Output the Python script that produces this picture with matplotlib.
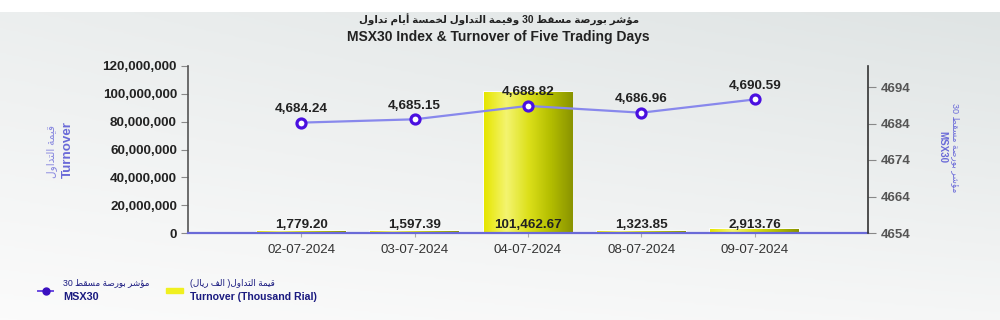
import re
import numpy as np
import matplotlib
matplotlib.use("Agg")
import matplotlib.pyplot as plt
from matplotlib.colors import LinearSegmentedColormap

# data
dates = ["02-07-2024", "03-07-2024", "04-07-2024", "08-07-2024", "09-07-2024"]
turnover = [1779.20, 1597.39, 101462.67, 1323.85, 2913.76]   # thousand rial
msx30 = [4684.24, 4685.15, 4688.82, 4686.96, 4690.59]
left_ticks = [0, 20e6, 40e6, 60e6, 80e6, 100e6, 120e6]
right_ticks = [4654, 4664, 4674, 4684, 4694]

title_ar = "مؤشر بورصة مسقط 30 وقيمة التداول لخمسة أيام تداول"
title_en = "MSX30 Index & Turnover of Five Trading Days"
ylab_left_ar = "قيمة التداول"
ylab_right_ar = "مؤشر بورصة مسقط 30"
leg_turn_ar = "قيمة التداول( الف ريال)"

# minimal arabic shaping (presentation forms) + rtl ordering
FORMS = {
    '\u0627': ('\uFE8D', '\uFE8E', None, None),
    '\u0623': ('\uFE83', '\uFE84', None, None),
    '\u0624': ('\uFE85', '\uFE86', None, None),
    '\u0628': ('\uFE8F', '\uFE90', '\uFE91', '\uFE92'),
    '\u0629': ('\uFE93', '\uFE94', None, None),
    '\u062A': ('\uFE95', '\uFE96', '\uFE97', '\uFE98'),
    '\u062E': ('\uFEA5', '\uFEA6', '\uFEA7', '\uFEA8'),
    '\u062F': ('\uFEA9', '\uFEAA', None, None),
    '\u0631': ('\uFEAD', '\uFEAE', None, None),
    '\u0633': ('\uFEB1', '\uFEB2', '\uFEB3', '\uFEB4'),
    '\u0634': ('\uFEB5', '\uFEB6', '\uFEB7', '\uFEB8'),
    '\u0635': ('\uFEB9', '\uFEBA', '\uFEBB', '\uFEBC'),
    '\u0637': ('\uFEC1', '\uFEC2', '\uFEC3', '\uFEC4'),
    '\u0641': ('\uFED1', '\uFED2', '\uFED3', '\uFED4'),
    '\u0642': ('\uFED5', '\uFED6', '\uFED7', '\uFED8'),
    '\u0644': ('\uFEDD', '\uFEDE', '\uFEDF', '\uFEE0'),
    '\u0645': ('\uFEE1', '\uFEE2', '\uFEE3', '\uFEE4'),
    '\u0648': ('\uFEED', '\uFEEE', None, None),
    '\u064A': ('\uFEF1', '\uFEF2', '\uFEF3', '\uFEF4'),
}
LAM_ALEF = {'\u0627': ('\uFEFB', '\uFEFC'), '\u0623': ('\uFEF7', '\uFEF8')}


def ar(s):
    out = []
    i = 0
    while i < len(s):
        c = s[i]
        if c not in FORMS:
            out.append(c)
            i += 1
            continue
        prev = s[i - 1] if i > 0 else ''
        pj = prev in FORMS and FORMS[prev][2] is not None
        if c == '\u0644' and i + 1 < len(s) and s[i + 1] in LAM_ALEF:
            out.append(LAM_ALEF[s[i + 1]][1 if pj else 0])
            i += 2
            continue
        nxt = s[i + 1] if i + 1 < len(s) else ''
        nj = nxt in FORMS and FORMS[c][2] is not None
        iso, fin, ini, med = FORMS[c]
        if pj and nj:
            f = med
        elif pj:
            f = fin
        elif nj:
            f = ini
        else:
            f = iso
        out.append(f)
        i += 1
    vis = ''.join(out)[::-1]
    vis = re.sub(r'[0-9]+', lambda m: m.group()[::-1], vis)
    vis = vis.translate(str.maketrans('()', ')('))
    return vis


FONT = ['Liberation Sans', 'DejaVu Sans']
plt.rcParams['font.family'] = FONT

fig = plt.figure(figsize=(10, 3.2), dpi=100)
fig.patch.set_facecolor('white')

# background gradient panel
bg = fig.add_axes([0, 0, 1, 1 - 12 / 320], zorder=-10)
gy, gx = np.mgrid[0:1:200j, 0:1:200j]
grad = 0.55 * gy + 0.25 * gx * gy + 0.2 * gx
bg_cmap = LinearSegmentedColormap.from_list('bg', ['#fbfbfb', '#dfe4e4'])
bg.imshow(grad, cmap=bg_cmap, aspect='auto', origin='lower', extent=[0, 1, 0, 1])
bg.axis('off')

ax = fig.add_axes([0.188, 1 - 233 / 320, 0.68, (233 - 66) / 320])
ax.set_facecolor('none')
x = np.arange(len(dates))

# turnover bars (values in thousand rial -> rial scale on axis)
bar_vals = [v * 1000 for v in turnover]
bars = ax.bar(x, bar_vals, width=0.78, color='#e8e820', edgecolor='white',
              linewidth=1.2, zorder=2)
bar_cmap = LinearSegmentedColormap.from_list(
    'bar', ['#e6e600', '#f4f470', '#dce01a', '#b4be00', '#8a9400'])
for b in bars:
    im = ax.imshow(np.linspace(0, 1, 100).reshape(1, -1), cmap=bar_cmap,
                   aspect='auto', zorder=2.5,
                   extent=[b.get_x(), b.get_x() + b.get_width(), 0, b.get_height()])
    im.set_clip_path(b)

ax.set_xlim(-1, len(dates))
ax.set_ylim(0, 120e6)
ax.set_yticks(left_ticks)
ax.set_yticklabels([f"{int(t):,}" for t in left_ticks], fontsize=9.7,
                   fontweight='bold', color='#222222')
ax.set_xticks(x)
ax.set_xticklabels(dates, fontsize=9.6, color='#333333')
ax.tick_params(axis='y', length=5, width=0.8, color='#888888', pad=3)
ax.tick_params(axis='x', length=3, width=0.8, color='#aaaaaa', pad=5)

for s in ['top', 'right']:
    ax.spines[s].set_visible(False)
ax.spines['left'].set_color('#555555')
ax.spines['left'].set_linewidth(1.2)
ax.spines['bottom'].set_color('#6a6ad8')
ax.spines['bottom'].set_linewidth(1.6)

for i, v in enumerate(turnover):
    ax.annotate(f"{v:,.2f}", (i, 0), xytext=(0, 1.5), textcoords='offset points',
                ha='center', va='bottom', fontsize=9.7, fontweight='bold',
                color='#222222', zorder=5)

# msx30 line
ax2 = ax.twinx()
ax2.set_facecolor('none')
ax2.plot(x, msx30, color='#8888ec', linewidth=1.6, marker='o', markersize=6.5,
         markerfacecolor='white', markeredgecolor='#4a10e0', markeredgewidth=2.3,
         zorder=4)
ax2.set_ylim(4654, 4654 + 167 / 3.65)
ax2.set_yticks(right_ticks)
ax2.set_yticklabels([str(t) for t in right_ticks], fontsize=9.5,
                    fontweight='bold', color='#555555')
ax2.tick_params(axis='y', length=6, width=0.8, color='#888888', pad=3)
for s in ['top', 'left', 'bottom']:
    ax2.spines[s].set_visible(False)
ax2.spines['right'].set_color('#333333')
ax2.spines['right'].set_linewidth(1.2)

for i, v in enumerate(msx30):
    ax2.annotate(f"{v:,.2f}", (i, v), xytext=(0, 5.5), textcoords='offset points',
                 ha='center', va='bottom', fontsize=9.7, fontweight='bold',
                 color='#222222')

# axis labels
fig.text(52 / 1000, 1 - 151 / 320, ar(ylab_left_ar), rotation=90, ha='center',
         va='center', fontsize=7.6, color='#8a8ae0', family=FONT)
fig.text(68 / 1000, 1 - 149 / 320, "Turnover", rotation=90, ha='center',
         va='center', fontsize=9.6, fontweight='bold', color='#6a6ad8')
fig.text(955 / 1000, 1 - 148 / 320, ar(ylab_right_ar), rotation=270, ha='center',
         va='center', fontsize=6.5, color='#6a6ad8', family=FONT)
fig.text(942 / 1000, 1 - 147 / 320, "MSX30", rotation=270, ha='center',
         va='center', fontsize=7, fontweight='bold', color='#6a6ad8')

# titles
fig.text(0.499, 1 - 20 / 320, ar(title_ar), ha='center', va='center',
         fontsize=7.4, fontweight='bold', color='#222222', family=FONT)
fig.text(0.498, 1 - 37 / 320, title_en, ha='center', va='center',
         fontsize=10, fontweight='bold', color='#222222')

# legend
fig.add_artist(plt.Line2D([38 / 1000, 53 / 1000], [1 - 291 / 320] * 2,
                          color='#6a4ae0', linewidth=1.4))
fig.add_artist(plt.Line2D([45.5 / 1000], [1 - 291 / 320], marker='o', markersize=5,
                          color='#3a10c0'))
fig.text(63 / 1000, 1 - 283 / 320, ar(ylab_right_ar), ha='left', va='center',
         fontsize=6.3, color='#1a1a80', family=FONT)
fig.text(63 / 1000, 1 - 297 / 320, "MSX30", ha='left', va='center',
         fontsize=7.8, fontweight='bold', color='#1a1a80')
fig.add_artist(plt.Rectangle((166 / 1000, 1 - 293 / 320), 17 / 1000, 5 / 320,
                             color='#f0f020', transform=fig.transFigure))
fig.text(190 / 1000, 1 - 283 / 320, ar(leg_turn_ar), ha='left', va='center',
         fontsize=6.3, color='#1a1a80', family=FONT)
fig.text(190 / 1000, 1 - 297 / 320, "Turnover (Thousand Rial)", ha='left',
         va='center', fontsize=7.6, fontweight='bold', color='#1a1a80')

fig.savefig("out.png", dpi=100)
